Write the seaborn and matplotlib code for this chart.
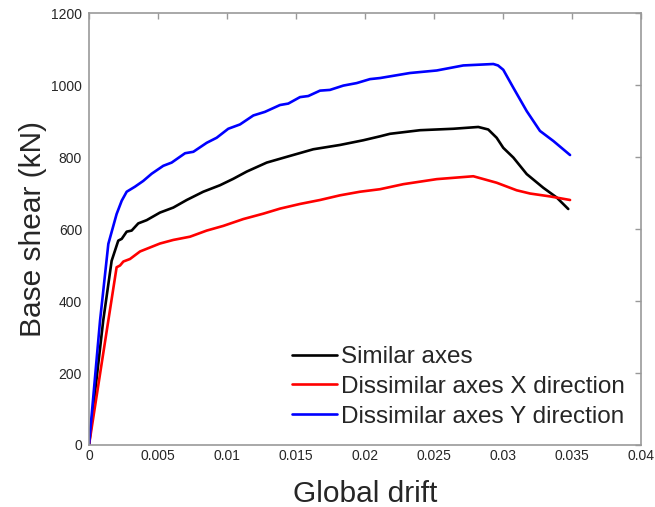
import numpy as np
import pandas as pd
import matplotlib
matplotlib.use("Agg")
import matplotlib.pyplot as plt
import seaborn as sns

# Pushover curves: global drift vs base shear (kN)
similar_drift = [0, 0.00103, 0.00164, 0.00212, 0.00237, 0.00273, 0.00309, 0.00357, 0.00418,
                 0.00514, 0.00611, 0.00708, 0.00828, 0.00949, 0.01046, 0.01143, 0.01288,
                 0.01433, 0.01625, 0.01819, 0.01987, 0.02109, 0.02181, 0.02399, 0.0264,
                 0.02821, 0.02893, 0.02954, 0.03002, 0.03075, 0.03172, 0.03292, 0.03389, 0.03473]
similar_shear = [0, 346, 512, 568, 573, 593, 596, 616, 625,
                 646, 660, 681, 704, 722, 740, 760, 785,
                 801, 822, 834, 847, 858, 865, 875, 879,
                 884, 877, 854, 826, 799, 753, 715, 688, 656]

dissim_x_drift = [0, 0.0014, 0.002, 0.00225, 0.00249, 0.00297, 0.0037, 0.00442, 0.00514,
                  0.00611, 0.00732, 0.00853, 0.00973, 0.01118, 0.01263, 0.01384, 0.01529,
                  0.01674, 0.01819, 0.01964, 0.02109, 0.02278, 0.0252, 0.02785, 0.02954,
                  0.03099, 0.03196, 0.0334, 0.03486]
dissim_x_shear = [0, 346, 494, 499, 510, 517, 538, 549, 560,
                  570, 579, 596, 609, 628, 643, 657, 670,
                  681, 694, 704, 711, 725, 739, 747, 729,
                  708, 699, 691, 681]

dissim_y_drift = [0, 0.0008, 0.0014, 0.002, 0.00237, 0.00273, 0.00333, 0.00393, 0.00454,
                  0.00538, 0.00599, 0.00696, 0.00756, 0.00853, 0.00925, 0.01009, 0.01094,
                  0.01191, 0.01275, 0.01384, 0.01444, 0.01529, 0.01589, 0.01674, 0.01746,
                  0.01843, 0.0194, 0.02036, 0.02109, 0.02326, 0.0252, 0.02712, 0.0293,
                  0.02964, 0.03002, 0.03075, 0.03172, 0.03268, 0.03365, 0.03486]
dissim_y_shear = [0, 346, 559, 642, 679, 704, 718, 734, 754,
                  776, 785, 811, 815, 840, 854, 879, 891,
                  916, 926, 945, 949, 967, 970, 985, 987,
                  999, 1006, 1017, 1020, 1034, 1041, 1055, 1059,
                  1055, 1043, 993, 928, 873, 845, 806]

labels = ["Similar axes", "Dissimilar axes X direction", "Dissimilar axes Y direction"]
colors = ["#000000", "#ff0000", "#0000ff"]

frames = []
for lab, d, s in zip(labels,
                     [similar_drift, dissim_x_drift, dissim_y_drift],
                     [similar_shear, dissim_x_shear, dissim_y_shear]):
    frames.append(pd.DataFrame({"drift": d, "shear": s, "case": lab}))
df = pd.concat(frames, ignore_index=True)

sns.set_theme(style="white")
plt.rcParams["font.family"] = ["Liberation Sans", "DejaVu Sans"]

fig = plt.figure(figsize=(6.55, 5.07), dpi=100)
ax = fig.add_axes([0.1359, 0.1223, 0.8427, 0.8515])

sns.lineplot(data=df, x="drift", y="shear", hue="case", hue_order=labels,
             palette=dict(zip(labels, colors)), sort=False, estimator=None,
             linewidth=1.9, ax=ax)

ax.set_xlim(0, 0.04)
ax.set_ylim(0, 1200)
ax.set_xticks(np.arange(0, 0.0401, 0.005))
ax.set_xticklabels(["0", "0.005", "0.01", "0.015", "0.02", "0.025", "0.03", "0.035", "0.04"])
ax.set_yticks(np.arange(0, 1201, 200))

for sp in ax.spines.values():
    sp.set_visible(True)
    sp.set_color("#999999")
    sp.set_linewidth(1.2)
ax.tick_params(direction="in", length=4, width=1.0, color="#999999",
               top=True, right=True, labelsize=10, labelcolor="#262626")
ax.tick_params(axis="x", pad=3)
ax.tick_params(axis="y", pad=5)

ax.set_xlabel("Global drift", fontsize=21.5, color="#262626", labelpad=12)
ax.set_ylabel("Base shear (kN)", fontsize=21.5, color="#262626", labelpad=3)

leg = ax.legend(loc="lower right", bbox_to_anchor=(0.971, 0.04), frameon=False,
                fontsize=17.5, handlelength=1.85, handletextpad=0.16,
                labelspacing=0.32, borderaxespad=0, borderpad=0)
for line in leg.get_lines():
    line.set_linewidth(1.9)

fig.savefig("out.png", dpi=100)
